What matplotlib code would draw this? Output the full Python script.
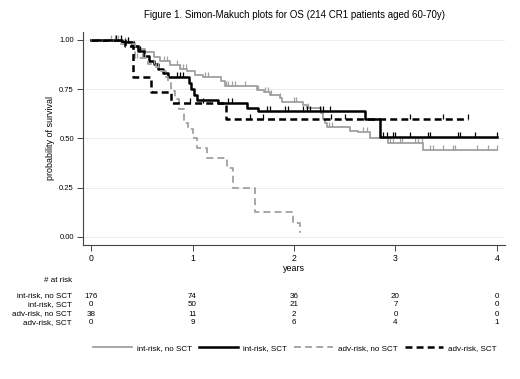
import matplotlib
matplotlib.use("Agg")
import matplotlib.pyplot as plt
import numpy as np
from matplotlib.lines import Line2D
from matplotlib.path import Path
from matplotlib.transforms import blended_transform_factory

plt.rcParams["font.family"] = ["Liberation Sans", "DejaVu Sans"]
plt.rcParams["lines.scale_dashes"] = False

# ---- data ----
int_no_t = [0, 0.30, 0.42, 0.47, 0.53, 0.62, 0.68, 0.78, 0.88, 0.95, 1.02, 1.10, 1.28, 1.32,
            1.64, 1.70, 1.76, 1.86, 1.88, 2.09, 2.13, 2.27, 2.29, 2.31, 2.33, 2.55, 2.63,
            2.75, 2.93, 3.27]
int_no_s = [1.00, 0.99, 0.97, 0.955, 0.94, 0.915, 0.895, 0.87, 0.85, 0.84, 0.82, 0.81, 0.79,
            0.765, 0.745, 0.735, 0.72, 0.705, 0.685, 0.67, 0.655, 0.63, 0.60, 0.58, 0.56,
            0.54, 0.53, 0.50, 0.477, 0.44]
int_no_end = 4.00
int_no_cens = [0.20, 0.24, 0.27, 0.33, 0.36, 0.72, 0.75, 0.85, 0.88, 0.91, 0.94, 1.12, 1.15,
               1.33, 1.35, 1.39, 1.42, 1.52, 1.65, 1.71, 1.74, 1.77, 1.86, 2.00, 2.02, 2.14,
               2.34, 2.37, 2.68, 2.72, 2.95, 2.98, 3.04, 3.06, 3.19, 3.22, 3.26, 3.34, 3.37,
               3.47, 3.57, 3.59, 3.80, 3.91, 4.00]

int_sct_t = [0, 0.31, 0.40, 0.46, 0.52, 0.57, 0.62, 0.66, 0.71, 0.76, 0.97, 0.99, 1.01, 1.04,
             1.25, 1.54, 1.65, 2.70, 2.85]
int_sct_s = [1.00, 0.99, 0.97, 0.945, 0.92, 0.895, 0.88, 0.85, 0.83, 0.81, 0.78, 0.75, 0.72,
             0.695, 0.68, 0.655, 0.64, 0.60, 0.505]
int_sct_end = 4.00
int_sct_cens = [0.25, 0.30, 0.36, 0.42, 0.48, 0.85, 0.88, 0.91, 1.35, 1.39, 1.73, 1.76, 1.91,
                1.94, 2.09, 2.13, 2.16, 2.26, 2.29, 2.35, 2.88, 2.92, 2.98, 3.00, 3.14, 3.32,
                3.34, 3.62, 3.64, 3.78, 4.00]

adv_no_t = [0, 0.30, 0.43, 0.56, 0.64, 0.69, 0.74, 0.76, 0.79, 0.83, 0.87, 0.92, 0.96, 1.00,
            1.04, 1.14, 1.34, 1.40, 1.62, 1.99, 2.06]
adv_no_s = [1.00, 0.98, 0.91, 0.88, 0.86, 0.84, 0.81, 0.78, 0.74, 0.70, 0.65, 0.58, 0.55, 0.50,
            0.45, 0.40, 0.35, 0.25, 0.125, 0.07, 0.025]
adv_no_end = 2.07
adv_no_cens = [0.45, 0.50, 0.53, 0.62, 0.66]

adv_sct_t = [0, 0.33, 0.41, 0.59, 0.79, 1.33]
adv_sct_s = [1.00, 0.97, 0.81, 0.735, 0.68, 0.60]
adv_sct_end = 3.71
adv_sct_cens = [0.98, 1.10, 1.57, 1.69, 2.36, 2.50, 3.14, 3.47, 3.71]

group_names = ["int-risk, no SCT", "int-risk, SCT", "adv-risk, no SCT", "adv-risk, SCT"]
risk_times = [0, 1, 2, 3, 4]
at_risk = [
    [176, 74, 36, 20, 0],
    [0, 50, 21, 7, 0],
    [38, 11, 2, 0, 0],
    [0, 9, 6, 4, 1],
]

GRAY = "#a0a0a0"
styles = [
    dict(color=GRAY, lw=1.3, ls="-"),
    dict(color="black", lw=1.8, ls="-"),
    dict(color=GRAY, lw=1.3, ls=(0, (5, 3))),
    dict(color="black", lw=1.8, ls=(0, (5, 3))),
]
curves = [
    (int_no_t, int_no_s, int_no_end, int_no_cens),
    (int_sct_t, int_sct_s, int_sct_end, int_sct_cens),
    (adv_no_t, adv_no_s, adv_no_end, adv_no_cens),
    (adv_sct_t, adv_sct_s, adv_sct_end, adv_sct_cens),
]

W, H = 520, 379
fig = plt.figure(figsize=(W / 100, H / 100), dpi=100)
ax = fig.add_axes([83 / W, 1 - 245 / H, (505 - 83) / W, (245 - 32) / H])

tick_mark = Path([(0, 0), (0, 1)], [Path.MOVETO, Path.LINETO])

for (t, s, end, cens), st in zip(curves, styles):
    tt = np.array(t + [end])
    ss = np.array(s + [s[-1]])
    ax.step(tt, ss, where="post", color=st["color"], lw=st["lw"], ls=st["ls"], zorder=3)
    idx = np.searchsorted(np.array(t), np.array(cens), side="right") - 1
    cy = np.array(s)[idx]
    ax.plot(cens, cy, ls="none", marker=tick_mark, ms=7, mew=0.9,
            color=st["color"], zorder=3)

ax.set_xlim(-0.079, 4.079)
ax.set_ylim(-0.041, 1.04)
ax.set_yticks([0, 0.25, 0.5, 0.75, 1.0])
ax.set_yticklabels(["0.00", "0.25", "0.50", "0.75", "1.00"])
ax.set_xticks(risk_times)
ax.grid(axis="y", color="#ececec", lw=0.7, zorder=0)
for side in ["top", "right"]:
    ax.spines[side].set_visible(False)
for side in ["left", "bottom"]:
    ax.spines[side].set_color("#444444")
    ax.spines[side].set_linewidth(0.8)
ax.tick_params(axis="both", length=4.5, width=0.7, color="#444444", labelsize=5.5, pad=2)
ax.tick_params(axis="x", labelsize=6.2)
ax.set_xlabel("years", fontsize=6.4, labelpad=1)
ax.set_ylabel("probability of survival", fontsize=6.4, labelpad=3)

fig.text(295 / W, 1 - 15 / H, "Figure 1. Simon-Makuch plots for OS (214 CR1 patients aged 60-70y)",
         ha="center", va="center", fontsize=7.0)

# number at risk table
tr = blended_transform_factory(ax.transData, fig.transFigure)
fig.text(72 / W, 1 - 280 / H, "# at risk", ha="right", va="center", fontsize=5.8)
row_y = [296, 305, 314, 323]
for name, counts, ry in zip(group_names, at_risk, row_y):
    fig.text(72 / W, 1 - ry / H, name, ha="right", va="center", fontsize=5.8)
    for xt, c in zip(risk_times, counts):
        ax.text(xt, 1 - ry / H, str(c), transform=tr, ha="center", va="center", fontsize=5.8)

handles = [Line2D([], [], color=st["color"], lw=st["lw"], ls=st["ls"]) for st in styles]
fig.legend(handles, group_names, ncol=4, loc="center", bbox_to_anchor=(295 / W, 1 - 348 / H),
           frameon=False, fontsize=5.8, handlelength=4.8, handletextpad=0.6, columnspacing=0.9)

fig.savefig("out.png", dpi=100, facecolor="white")
